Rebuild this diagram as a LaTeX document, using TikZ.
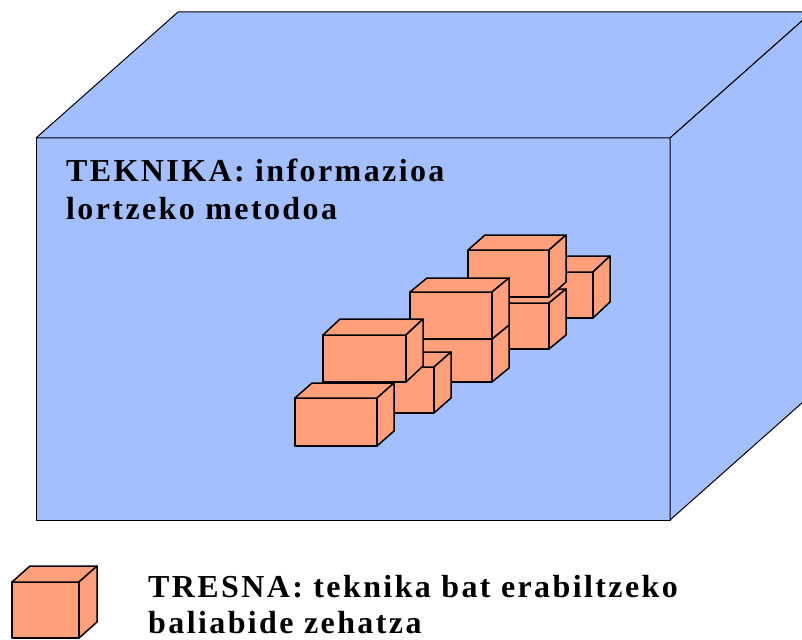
\documentclass[tikz,border=0pt]{standalone}
\usepackage{fontspec}
\newfontfamily\labelfont[LetterSpace=7.5]{Liberation Serif}
\definecolor{techblue}{RGB}{163,191,255}
\definecolor{toolorange}{RGB}{255,160,122}
\tikzset{
  bigface/.style={fill=techblue, draw=black, line width=1pt, line join=round},
  brickface/.style={fill=toolorange, draw=black, line width=1.5pt, line join=round},
  caption/.style={anchor=base west, inner sep=0pt, font=\labelfont\bfseries\fontsize{32}{37}\selectfont}
}
% brick: front face (x1,y1)-(x2,y2), then depth dx,dy
\newcommand{\brick}[6]{%
  \draw[brickface] (#1,#2) rectangle (#3,#4);
  \draw[brickface] (#1,#2) -- ({#1+#5},{#2-#6}) -- ({#3+#5},{#2-#6}) -- (#3,#2) -- cycle;
  \draw[brickface] (#3,#2) -- ({#3+#5},{#2-#6}) -- ({#3+#5},{#4-#6}) -- (#3,#4) -- cycle;
}
\begin{document}
\begin{tikzpicture}[x=1pt,y=-1pt]
    \useasboundingbox (0,0) rectangle (802,639);
    % big cube (technique)
    \begin{scope}
        \clip (0,0) rectangle (802,639);
        \draw[bigface] (36,138) rectangle (670,520);
        \draw[bigface] (36,138) -- (178,12) -- (812,12) -- (670,138) -- cycle;
        \draw[bigface] (670,138) -- (812,12) -- (812,394) -- (670,520) -- cycle;
    \end{scope}
    \node[caption] (teknika) at (66,182) {TEKNIKA: informazioa};
    \node[caption] (metodoa) at (66,219) {lortzeko metodoa};
    % bricks, back to front
    \brick{547}{272}{593}{318}{17}{16}
    \brick{467}{303}{549}{349}{17}{14}
    \brick{468}{250}{549}{297}{17}{15}
    \brick{410}{339}{492}{382}{17}{14}
    \brick{410}{292}{492}{339}{17}{14}
    \brick{375}{367}{434}{413}{17}{15}
    \brick{323}{335}{406}{382}{17}{16}
    \brick{295}{398}{377}{446}{17}{15}
    % legend
    \brick{12}{582}{79}{638}{18}{16}
    \node[caption] (tresna) at (148,597) {TRESNA: teknika bat erabiltzeko};
    \node[caption] (baliabide) at (148,633) {baliabide zehatza};
\end{tikzpicture}
\end{document}
